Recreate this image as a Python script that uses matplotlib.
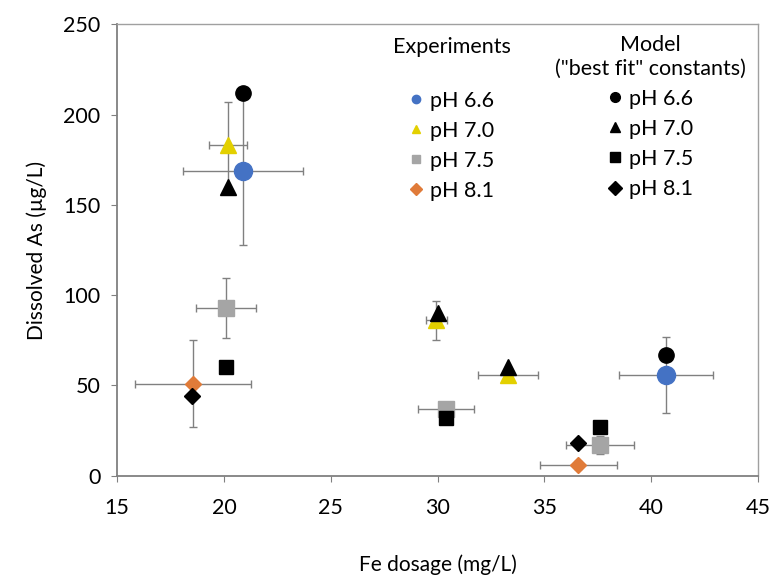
import matplotlib
matplotlib.use("Agg")
import matplotlib.pyplot as plt
from matplotlib.lines import Line2D

plt.rcParams['font.family'] = ['Lato', 'DejaVu Sans']

# ---- data ----
labels = ["pH 6.6", "pH 7.0", "pH 7.5", "pH 8.1"]

exp_x = {"pH 6.6": [20.9, 40.7], "pH 7.0": [20.2, 29.95, 33.3],
         "pH 7.5": [20.1, 30.4, 37.6], "pH 8.1": [18.55, 36.6]}
exp_y = {"pH 6.6": [169, 56], "pH 7.0": [183, 86, 56],
         "pH 7.5": [93, 37, 17], "pH 8.1": [51, 6]}
exp_xerr = {"pH 6.6": [2.8, 2.2], "pH 7.0": [0.9, 0.5, 1.4],
            "pH 7.5": [1.4, 1.3, 1.6], "pH 8.1": [2.7, 1.8]}
exp_yerr = {"pH 6.6": [41, 21], "pH 7.0": [24, 11, 3],
            "pH 7.5": [16.5, 4, 5], "pH 8.1": [24, 2]}

mod_x = {"pH 6.6": [20.9, 40.7], "pH 7.0": [20.2, 30.0, 33.3],
         "pH 7.5": [20.1, 30.4, 37.6], "pH 8.1": [18.5, 36.6]}
mod_y = {"pH 6.6": [212, 67], "pH 7.0": [160, 90, 60],
         "pH 7.5": [60, 32, 27], "pH 8.1": [44, 18]}

xticks = [15, 20, 25, 30, 35, 40, 45]
yticks = [0, 50, 100, 150, 200, 250]

# ---- styles ----
exp_colors = {"pH 6.6": "#4472C4", "pH 7.0": "#E3D000",
              "pH 7.5": "#A5A5A5", "pH 8.1": "#E07B39"}
markers = {"pH 6.6": "o", "pH 7.0": "^", "pH 7.5": "s", "pH 8.1": "D"}
exp_ms = {"pH 6.6": 13, "pH 7.0": 11, "pH 7.5": 11, "pH 8.1": 8}
mod_ms = {"pH 6.6": 11, "pH 7.0": 11, "pH 7.5": 10, "pH 8.1": 8}

FS = 15.5

fig = plt.figure(figsize=(7.71, 5.76), dpi=100)
ax = fig.add_axes([0.152, 0.174, 0.831, 0.784])

for lab in labels:
    ax.errorbar(exp_x[lab], exp_y[lab], xerr=exp_xerr[lab], yerr=exp_yerr[lab],
                fmt=markers[lab], color=exp_colors[lab], ms=exp_ms[lab],
                mec=exp_colors[lab], ecolor="#808080", elinewidth=1.0,
                capsize=3, capthick=1.0, zorder=3)

for lab in labels:
    ax.plot(mod_x[lab], mod_y[lab], linestyle="none", marker=markers[lab],
            color="black", ms=mod_ms[lab], zorder=4)

ax.set_xlim(15, 45)
ax.set_ylim(0, 250)
ax.set_xticks(xticks)
ax.set_yticks(yticks)
ax.tick_params(labelsize=FS, length=4, color="#808080")
ax.tick_params(axis="y", pad=8)
ax.tick_params(axis="x", pad=12)

for s in ["left", "bottom"]:
    ax.spines[s].set_color("#808080")
    ax.spines[s].set_linewidth(1.3)
for s in ["top", "right"]:
    ax.spines[s].set_color("#A0A0A0")
    ax.spines[s].set_linewidth(1.0)

ax.set_xlabel("Fe dosage (mg/L)", fontsize=15, labelpad=26)
ax.set_ylabel("Dissolved As (µg/L)", fontsize=15, labelpad=12)

# legends
exp_handles = [Line2D([], [], linestyle="none", marker=markers[l], color=exp_colors[l], ms=6)
               for l in labels]
mod_handles = [Line2D([], [], linestyle="none", marker=markers[l], color="black", ms=7)
               for l in labels]

leg1 = ax.legend(exp_handles, labels, title="Experiments\n ", loc="upper left",
                 bbox_to_anchor=(0.40, 1.014), frameon=False, fontsize=FS,
                 title_fontsize=FS, handlelength=0.6, handletextpad=0.35,
                 labelspacing=0.47)
leg1.get_title().set_multialignment("center")
ax.add_artist(leg1)
leg2 = ax.legend(mod_handles, labels, title='Model\n("best fit" constants)', loc="upper right",
                 bbox_to_anchor=(1.012, 1.018), frameon=False, fontsize=FS,
                 title_fontsize=FS, handlelength=0.6, handletextpad=0.35,
                 labelspacing=0.47)
leg2.get_title().set_multialignment("center")

fig.savefig("out.png", dpi=100, facecolor="white")
